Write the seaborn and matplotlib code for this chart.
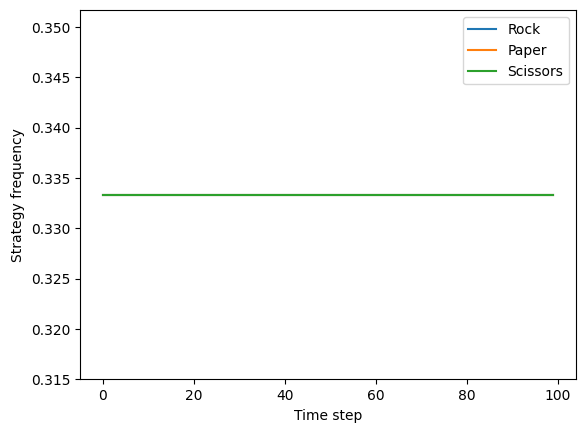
import pandas as pd
import seaborn as sns
import matplotlib.pyplot as plt

# Strategy frequencies per time step (flat at the uniform mix)
time_steps = list(range(100))
rock = [0.3333] * 100
paper = [0.3333] * 100
scissors = [0.3333] * 100
strategies = ["Rock", "Paper", "Scissors"]

df = pd.DataFrame({"Time step": time_steps, "Rock": rock,
                   "Paper": paper, "Scissors": scissors})

fig, ax = plt.subplots(figsize=(5.85, 4.33), dpi=100)
fig.subplots_adjust(left=0.137, right=0.984, top=0.976, bottom=0.124)

colors = sns.color_palette("tab10", 3)
for name, c in zip(strategies, colors):
    sns.lineplot(data=df, x="Time step", y=name, color=c, label=name, ax=ax)

ax.set_ylim(0.315, 0.35167)
ax.set_xlabel("Time step")
ax.set_ylabel("Strategy frequency")
ax.legend(loc="upper right")

fig.savefig("out.png", dpi=100)
